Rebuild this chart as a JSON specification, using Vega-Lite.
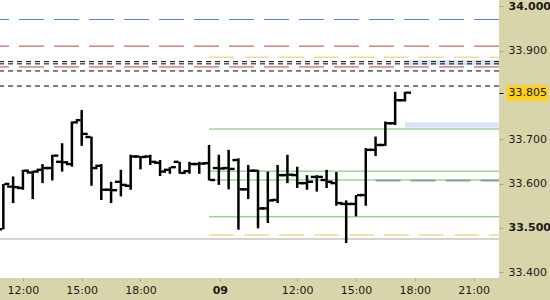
{
  "$schema": "https://vega.github.io/schema/vega-lite/v6.json",
  "width": 499,
  "height": 278,
  "autosize": "none",
  "padding": {"left": 0, "top": 0, "right": 51, "bottom": 22},
  "background": "#d9d5aa",
  "view": {"fill": "#ffffff", "stroke": null},
  "config": {"font": "DejaVu Sans"},
  "datasets": {
    "bars": [
      {"i": 0, "open": 33.497, "high": 33.599, "low": 33.497, "close": 33.599},
      {"i": 1, "open": 33.593, "high": 33.616, "low": 33.556, "close": 33.592},
      {"i": 2, "open": 33.590, "high": 33.631, "low": 33.586, "close": 33.629},
      {"i": 3, "open": 33.625, "high": 33.629, "low": 33.565, "close": 33.627},
      {"i": 4, "open": 33.631, "high": 33.644, "low": 33.601, "close": 33.635},
      {"i": 5, "open": 33.635, "high": 33.665, "low": 33.607, "close": 33.663},
      {"i": 6, "open": 33.649, "high": 33.691, "low": 33.627, "close": 33.648},
      {"i": 7, "open": 33.644, "high": 33.740, "low": 33.638, "close": 33.738},
      {"i": 8, "open": 33.743, "high": 33.766, "low": 33.685, "close": 33.712},
      {"i": 9, "open": 33.705, "high": 33.706, "low": 33.595, "close": 33.635},
      {"i": 10, "open": 33.640, "high": 33.644, "low": 33.563, "close": 33.586},
      {"i": 11, "open": 33.586, "high": 33.604, "low": 33.556, "close": 33.585},
      {"i": 12, "open": 33.604, "high": 33.631, "low": 33.571, "close": 33.597},
      {"i": 13, "open": 33.595, "high": 33.665, "low": 33.586, "close": 33.661},
      {"i": 14, "open": 33.661, "high": 33.662, "low": 33.632, "close": 33.660},
      {"i": 15, "open": 33.661, "high": 33.665, "low": 33.642, "close": 33.649},
      {"i": 16, "open": 33.647, "high": 33.653, "low": 33.617, "close": 33.627},
      {"i": 17, "open": 33.631, "high": 33.637, "low": 33.622, "close": 33.637},
      {"i": 18, "open": 33.649, "high": 33.649, "low": 33.622, "close": 33.624},
      {"i": 19, "open": 33.628, "high": 33.649, "low": 33.622, "close": 33.644},
      {"i": 20, "open": 33.644, "high": 33.649, "low": 33.622, "close": 33.645},
      {"i": 21, "open": 33.646, "high": 33.687, "low": 33.607, "close": 33.608},
      {"i": 22, "open": 33.635, "high": 33.665, "low": 33.597, "close": 33.634},
      {"i": 23, "open": 33.635, "high": 33.676, "low": 33.587, "close": 33.633},
      {"i": 24, "open": 33.653, "high": 33.657, "low": 33.496, "close": 33.587},
      {"i": 25, "open": 33.587, "high": 33.642, "low": 33.565, "close": 33.629},
      {"i": 26, "open": 33.629, "high": 33.631, "low": 33.499, "close": 33.544},
      {"i": 27, "open": 33.544, "high": 33.627, "low": 33.511, "close": 33.562},
      {"i": 28, "open": 33.563, "high": 33.642, "low": 33.556, "close": 33.619},
      {"i": 29, "open": 33.619, "high": 33.665, "low": 33.601, "close": 33.620},
      {"i": 30, "open": 33.619, "high": 33.638, "low": 33.590, "close": 33.601},
      {"i": 31, "open": 33.601, "high": 33.619, "low": 33.586, "close": 33.604},
      {"i": 32, "open": 33.615, "high": 33.619, "low": 33.582, "close": 33.615},
      {"i": 33, "open": 33.608, "high": 33.631, "low": 33.590, "close": 33.604},
      {"i": 34, "open": 33.601, "high": 33.626, "low": 33.550, "close": 33.556},
      {"i": 35, "open": 33.554, "high": 33.562, "low": 33.466, "close": 33.554},
      {"i": 36, "open": 33.554, "high": 33.574, "low": 33.526, "close": 33.574},
      {"i": 37, "open": 33.574, "high": 33.680, "low": 33.550, "close": 33.676},
      {"i": 38, "open": 33.676, "high": 33.706, "low": 33.662, "close": 33.687},
      {"i": 39, "open": 33.687, "high": 33.740, "low": 33.685, "close": 33.736},
      {"i": 40, "open": 33.736, "high": 33.807, "low": 33.732, "close": 33.788},
      {"i": 41, "open": 33.788, "high": 33.807, "low": 33.785, "close": 33.805}
    ],
    "fullLevels": [
      {"price": 33.970, "kind": "weekly"},
      {"price": 33.910, "kind": "daily"},
      {"price": 33.875, "kind": "order"},
      {"price": 33.870, "kind": "order"},
      {"price": 33.863, "kind": "daily"},
      {"price": 33.854, "kind": "order"},
      {"price": 33.820, "kind": "order"},
      {"price": 33.475, "kind": "base"}
    ],
    "sessionLevels": [
      {"price": 33.885, "kind": "session", "from": 21},
      {"price": 33.723, "kind": "pivot", "from": 21},
      {"price": 33.628, "kind": "pivot", "from": 21},
      {"price": 33.608, "kind": "pivot", "from": 21},
      {"price": 33.525, "kind": "pivot", "from": 21},
      {"price": 33.484, "kind": "session", "from": 21},
      {"price": 33.607, "kind": "average", "from": 38}
    ],
    "zones": [
      {"from": 41, "lo": 33.867, "hi": 33.879},
      {"from": 41, "lo": 33.726, "hi": 33.738}
    ]
  },
  "layer": [
    {
      "data": {"name": "zones"},
      "mark": {"type": "rect", "color": "#dce5f6"},
      "encoding": {
        "x": {"field": "from", "type": "quantitative", "title": null, "scale": {"domain": [-0.34, 50.6], "nice": false, "zero": false}},
        "x2": {"value": "width"},
        "y": {"field": "lo", "type": "quantitative", "title": null, "scale": {"domain": [33.387, 34.014], "nice": false, "zero": false}},
        "y2": {"field": "hi"}
      }
    },
    {
      "data": {"name": "fullLevels"},
      "transform": [{"filter": "datum.kind == 'weekly'"}],
      "mark": {"type": "rule", "color": "#4f86d9", "strokeWidth": 1, "strokeDash": [25, 10]},
      "encoding": {
        "y": {"field": "price", "type": "quantitative", "title": null, "scale": {"domain": [33.387, 34.014], "nice": false, "zero": false}}
      }
    },
    {
      "data": {"name": "fullLevels"},
      "transform": [{"filter": "datum.kind == 'daily'"}],
      "mark": {"type": "rule", "color": "#b5463f", "strokeWidth": 1, "strokeDash": [25, 10]},
      "encoding": {
        "y": {"field": "price", "type": "quantitative", "title": null, "scale": {"domain": [33.387, 34.014], "nice": false, "zero": false}}
      }
    },
    {
      "data": {"name": "fullLevels"},
      "transform": [{"filter": "datum.kind == 'order'"}],
      "mark": {"type": "rule", "color": "#000000", "strokeWidth": 1, "strokeDash": [5, 4]},
      "encoding": {
        "y": {"field": "price", "type": "quantitative", "title": null, "scale": {"domain": [33.387, 34.014], "nice": false, "zero": false}}
      }
    },
    {
      "data": {"name": "fullLevels"},
      "transform": [{"filter": "datum.kind == 'base'"}],
      "mark": {"type": "rule", "color": "#a6a6a6", "strokeWidth": 1},
      "encoding": {
        "y": {"field": "price", "type": "quantitative", "title": null, "scale": {"domain": [33.387, 34.014], "nice": false, "zero": false}}
      }
    },
    {
      "data": {"name": "sessionLevels"},
      "transform": [{"filter": "datum.kind == 'session'"}],
      "mark": {"type": "rule", "color": "#efc75a", "strokeWidth": 1, "strokeDash": [25, 10]},
      "encoding": {
        "x": {"field": "from", "type": "quantitative", "title": null, "scale": {"domain": [-0.34, 50.6], "nice": false, "zero": false}},
        "x2": {"value": "width"},
        "y": {"field": "price", "type": "quantitative", "title": null, "scale": {"domain": [33.387, 34.014], "nice": false, "zero": false}}
      }
    },
    {
      "data": {"name": "sessionLevels"},
      "transform": [{"filter": "datum.kind == 'pivot'"}],
      "mark": {"type": "rule", "color": "#6cbf6c", "strokeWidth": 1},
      "encoding": {
        "x": {"field": "from", "type": "quantitative", "title": null, "scale": {"domain": [-0.34, 50.6], "nice": false, "zero": false}},
        "x2": {"value": "width"},
        "y": {"field": "price", "type": "quantitative", "title": null, "scale": {"domain": [33.387, 34.014], "nice": false, "zero": false}}
      }
    },
    {
      "data": {"name": "sessionLevels"},
      "transform": [{"filter": "datum.kind == 'average'"}],
      "mark": {"type": "rule", "color": "#7fa89a", "strokeWidth": 2, "strokeDash": [25, 10]},
      "encoding": {
        "x": {"field": "from", "type": "quantitative", "title": null, "scale": {"domain": [-0.34, 50.6], "nice": false, "zero": false}},
        "x2": {"value": "width"},
        "y": {"field": "price", "type": "quantitative", "title": null, "scale": {"domain": [33.387, 34.014], "nice": false, "zero": false}}
      }
    },
    {
      "data": {"name": "bars"},
      "mark": {"type": "rule", "color": "#000000", "strokeWidth": 2.5, "opacity": 1},
      "encoding": {
        "x": {"field": "i", "type": "quantitative", "title": null,
          "scale": {"domain": [-0.34, 50.6], "nice": false, "zero": false},
          "axis": {
            "orient": "bottom",
            "values": [2, 8, 14, 22.1, 30, 36, 42, 48],
            "labelExpr": "datum.value == 22.1 ? '09' : (datum.value == 2 || datum.value == 30) ? '12:00' : (datum.value == 8 || datum.value == 36) ? '15:00' : (datum.value == 14 || datum.value == 42) ? '18:00' : '21:00'",
            "labelFontWeight": {"condition": {"test": "datum.value == 22.1", "value": "bold"}, "value": "normal"},
            "labelFontSize": 11,
            "labelColor": "#1a1a1a",
            "labelPadding": 3,
            "labelFlush": false,
            "labelOverlap": false,
            "tickSize": 3,
            "tickColor": "#aaa67f",
            "domain": false,
            "grid": false
          }
        },
        "y": {"field": "low", "type": "quantitative", "title": null,
          "scale": {"domain": [33.387, 34.014], "nice": false, "zero": false},
          "axis": {
            "orient": "right",
            "values": [33.4, 33.5, 33.6, 33.7, 33.805, 33.9, 34.0],
            "labelExpr": "format(datum.value, '.3f')",
            "labelFontWeight": {"condition": {"test": "datum.value == 34 || datum.value == 33.5", "value": "bold"}, "value": "normal"},
            "labelFontSize": 11,
            "labelColor": "#1a1a1a",
            "labelPadding": 5,
            "labelOverlap": false,
            "tickSize": 4,
            "tickColor": {"condition": {"test": "datum.value == 33.805", "value": "#000000"}, "value": "#aaa67f"},
            "domain": false,
            "grid": false,
            "zindex": 1
          }
        },
        "y2": {"field": "high"}
      }
    },
    {
      "data": {"name": "bars"},
      "mark": {"type": "tick", "orient": "horizontal", "color": "#000000", "opacity": 1, "size": 5, "thickness": 2.4, "xOffset": -3.5},
      "encoding": {
        "x": {"field": "i", "type": "quantitative", "title": null, "scale": {"domain": [-0.34, 50.6], "nice": false, "zero": false}},
        "y": {"field": "open", "type": "quantitative", "title": null, "scale": {"domain": [33.387, 34.014], "nice": false, "zero": false}}
      }
    },
    {
      "data": {"name": "bars"},
      "mark": {"type": "tick", "orient": "horizontal", "color": "#000000", "opacity": 1, "size": 5, "thickness": 2.4, "xOffset": 3.5},
      "encoding": {
        "x": {"field": "i", "type": "quantitative", "title": null, "scale": {"domain": [-0.34, 50.6], "nice": false, "zero": false}},
        "y": {"field": "close", "type": "quantitative", "title": null, "scale": {"domain": [33.387, 34.014], "nice": false, "zero": false}}
      }
    },
    {
      "data": {"name": "bars"},
      "transform": [{"filter": "datum.i == 41"}],
      "mark": {"type": "rect", "color": "#fbd125", "clip": false,
               "x": {"expr": "width + 7"}, "x2": {"expr": "width + 49"},
               "yOffset": -8, "y2Offset": 8},
      "encoding": {
        "y": {"field": "close", "type": "quantitative", "title": null, "scale": {"domain": [33.387, 34.014], "nice": false, "zero": false}},
        "y2": {"field": "close"}
      }
    }
  ]
}
